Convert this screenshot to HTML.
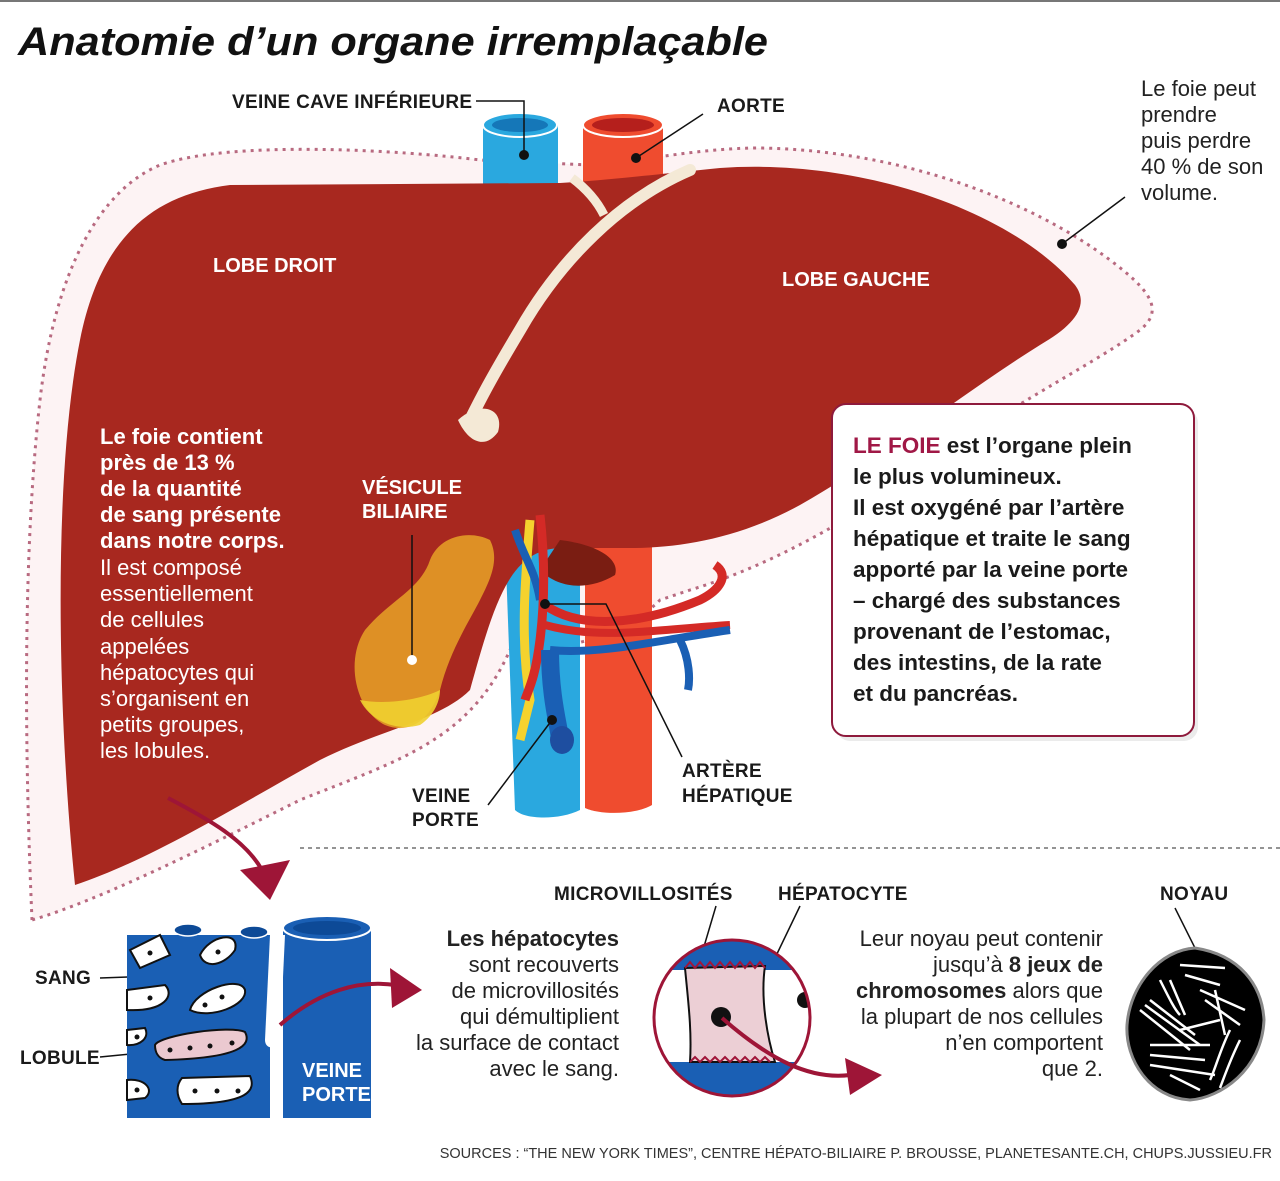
<!DOCTYPE html>
<html><head><meta charset="utf-8"><style>
html,body{margin:0;padding:0;background:#fff}
svg{display:block}
text{font-family:"Liberation Sans",sans-serif}
.lb{font-weight:bold;font-size:19px;fill:#1a1a1a;letter-spacing:0.3px}
.w{font-weight:bold;font-size:20px;fill:#fff}
.body{font-size:22px;fill:#222}
</style></head><body>
<svg width="1280" height="1181" viewBox="0 0 1280 1181" xmlns="http://www.w3.org/2000/svg">
<rect x="0" y="0" width="1280" height="2" fill="#777"/>
<text x="18" y="55" font-size="40" font-weight="bold" font-style="italic" fill="#111" textLength="750" lengthAdjust="spacingAndGlyphs">Anatomie d’un organe irremplaçable</text>

<!-- dotted halo -->
<path d="M32 920 C25 760 22 560 40 400 C55 270 100 190 160 165 C230 140 400 150 480 160 L590 165 C650 160 700 148 760 148 C900 150 1030 200 1110 260 C1150 290 1165 310 1140 330 C1100 360 1020 400 950 450 C880 500 790 560 690 590 L660 600 C620 640 560 650 510 650 C470 740 400 760 300 800 C200 850 100 900 32 920 Z" fill="#fdf3f4" stroke="#b86a80" stroke-width="3" stroke-dasharray="3 5"/>

<!-- top vessels -->
<rect x="483" y="125" width="75" height="65" fill="#2aa8df"/>
<ellipse cx="520" cy="125" rx="37" ry="12" fill="#2aa8df" stroke="#fff" stroke-width="2"/>
<ellipse cx="520" cy="125" rx="28" ry="7" fill="#1577b8"/>
<rect x="583" y="125" width="80" height="65" fill="#ef4c2f"/>
<ellipse cx="623" cy="125" rx="40" ry="12" fill="#ef4c2f" stroke="#fff" stroke-width="2"/>
<ellipse cx="623" cy="125" rx="31" ry="7" fill="#b51f1c"/>

<!-- lower vessels -->
<path d="M505 540 L580 540 L580 810 C560 820 525 820 515 810 Z" fill="#2aa8df"/>
<path d="M585 540 L652 540 L652 805 C635 815 600 815 585 808 Z" fill="#ef4c2f"/>

<!-- liver -->
<path d="M75 885 C58 720 52 480 80 340 C100 240 150 195 230 185 L560 183 C610 180 650 175 720 168 C860 158 1010 210 1075 285 C1090 305 1075 325 1040 345 C960 395 880 460 800 505 C740 538 680 548 630 548 L560 548 C510 550 495 600 470 690 C440 720 380 730 320 760 C230 810 150 860 75 885 Z" fill="#a8281f"/>
<path d="M560 540 C600 545 620 560 615 575 C590 590 560 590 540 570 Z" fill="#7a1d12"/>
<!-- fissure -->
<path d="M572 178 C588 190 598 203 604 215" stroke="#f4e9d6" stroke-width="9" fill="none"/>
<path d="M690 170 C620 200 560 260 520 330 C490 380 480 400 470 420" stroke="#f4e9d6" stroke-width="12" fill="none" stroke-linecap="round"/>
<path d="M458 420 C480 400 505 408 498 432 C485 450 468 442 458 420 Z" fill="#f4e9d6"/>

<!-- gallbladder -->
<path d="M490 540 C470 530 440 535 430 560 C420 590 390 600 365 630 C345 660 355 710 385 725 C410 735 430 720 440 690 C450 650 470 620 480 600 C490 580 500 560 490 540 Z" fill="#e8a227" opacity="0.85"/>
<path d="M360 700 C370 720 395 732 420 725 C435 715 440 700 440 690 C420 700 385 705 360 700 Z" fill="#f0d030" opacity="0.9"/>

<!-- ducts and arteries -->
<path d="M530 520 C525 580 520 640 530 700 L520 740" stroke="#f5d22e" stroke-width="9" fill="none"/>
<path d="M515 530 C525 560 535 570 540 600" stroke="#1a5fb4" stroke-width="8" fill="none"/>
<path d="M540 515 C545 560 545 600 540 640 C535 680 528 690 525 700" stroke="#d42a26" stroke-width="9" fill="none"/>
<path d="M545 605 C580 630 640 625 700 600 C720 590 730 575 715 565" stroke="#d42a26" stroke-width="9" fill="none"/>
<path d="M545 625 C600 640 650 630 730 625" stroke="#d42a26" stroke-width="8" fill="none"/>
<path d="M550 650 C600 655 660 640 730 630 M680 640 C690 660 690 680 688 690" stroke="#1a5fb4" stroke-width="8" fill="none"/>
<path d="M550 650 C550 700 560 730 560 740" stroke="#1a5fb4" stroke-width="18" fill="none"/>
<ellipse cx="562" cy="740" rx="12" ry="14" fill="#1e4ea0"/>

<!-- pointer lines -->
<g stroke="#111" stroke-width="1.5" fill="none">
<path d="M476 101 L524 101 L524 155"/>
<path d="M703 114 L636 158"/>
<path d="M1125 197 L1062 244"/>
<path d="M412 535 L412 660"/>
<path d="M545 604 L606 604 L682 757"/>
<path d="M552 720 L488 805"/>
<path d="M100 978 L180 975"/>
<path d="M100 1057 L170 1050"/>
<path d="M716 906 L700 960"/>
<path d="M800 906 L750 1010"/>
<path d="M1175 908 L1195 948"/>
</g>
<g fill="#111"><circle cx="524" cy="155" r="5"/><circle cx="636" cy="158" r="5"/><circle cx="1062" cy="244" r="5"/><circle cx="545" cy="604" r="5"/><circle cx="552" cy="720" r="5"/></g>
<circle cx="412" cy="660" r="5" fill="#fff"/>

<text class="lb" x="232" y="108">VEINE CAVE INFÉRIEURE</text>
<text class="lb" x="717" y="112">AORTE</text>
<text x="1141" y="96" class="body">Le foie peut</text>
<text x="1141" y="122" class="body">prendre</text>
<text x="1141" y="148" class="body">puis perdre</text>
<text x="1141" y="174" class="body">40 % de son</text>
<text x="1141" y="200" class="body">volume.</text>
<text class="w" x="213" y="272">LOBE DROIT</text>
<text class="w" x="782" y="286">LOBE GAUCHE</text>
<text class="w" x="362" y="494" font-size="18">VÉSICULE</text>
<text class="w" x="362" y="518" font-size="18">BILIAIRE</text>
<g font-size="22" fill="#fff">
<text x="100" y="444" font-weight="bold">Le foie contient</text>
<text x="100" y="470" font-weight="bold">près de 13 %</text>
<text x="100" y="496" font-weight="bold">de la quantité</text>
<text x="100" y="522" font-weight="bold">de sang présente</text>
<text x="100" y="548" font-weight="bold">dans notre corps.</text>
<text x="100" y="575">Il est composé</text>
<text x="100" y="601">essentiellement</text>
<text x="100" y="627">de cellules</text>
<text x="100" y="654">appelées</text>
<text x="100" y="680">hépatocytes qui</text>
<text x="100" y="706">s’organisent en</text>
<text x="100" y="732">petits groupes,</text>
<text x="100" y="758">les lobules.</text>
</g>
<text class="lb" x="412" y="802">VEINE</text>
<text class="lb" x="412" y="826">PORTE</text>
<text class="lb" x="682" y="777">ARTÈRE</text>
<text class="lb" x="682" y="802">HÉPATIQUE</text>

<!-- info box -->
<rect x="836" y="409" width="362" height="332" rx="14" fill="#ddd" opacity="0.6"/>
<rect x="832" y="404" width="362" height="332" rx="14" fill="#fff" stroke="#8e1a3c" stroke-width="2"/>
<g font-size="22.5" font-weight="bold" fill="#1a1a1a">
<text x="853" y="453"><tspan fill="#a01846">LE FOIE</tspan> est l’organe plein</text>
<text x="853" y="484">le plus volumineux.</text>
<text x="853" y="515">Il est oxygéné par l’artère</text>
<text x="853" y="546">hépatique et traite le sang</text>
<text x="853" y="577">apporté par la veine porte</text>
<text x="853" y="608">– chargé des substances</text>
<text x="853" y="639">provenant de l’estomac,</text>
<text x="853" y="670">des intestins, de la rate</text>
<text x="853" y="701">et du pancréas.</text>
</g>

<line x1="300" y1="848" x2="1280" y2="848" stroke="#555" stroke-width="1.2" stroke-dasharray="4 4"/>

<!-- arrow 1 -->
<path d="M168 798 C210 820 245 840 262 870" stroke="#9e1537" stroke-width="4" fill="none"/>
<path d="M240 870 L290 860 L270 900 Z" fill="#9e1537"/>

<!-- lobule block -->
<path d="M127 935 L270 935 L270 1118 L127 1118 Z" fill="#1a5fb4"/>
<rect x="283" y="928" width="88" height="190" fill="#1a5fb4"/>
<ellipse cx="327" cy="928" rx="44" ry="12" fill="#1a5fb4" stroke="#fff" stroke-width="2"/>
<ellipse cx="327" cy="928" rx="34" ry="7" fill="#0d4a97"/>
<path d="M270 935 L285 935 L280 1040 C278 1050 265 1050 265 1040 Z" fill="#fff"/>
<path d="M270 1060 L282 1060 L282 1118 L270 1118 Z" fill="#fff"/>
<ellipse cx="188" cy="930" rx="14" ry="6" fill="#0d4a97" stroke="#fff" stroke-width="1.5"/>
<ellipse cx="254" cy="932" rx="14" ry="6" fill="#0d4a97" stroke="#fff" stroke-width="1.5"/>
<g stroke="#111" stroke-width="2" fill="#fff">
<path d="M130 950 L160 935 L170 955 L140 968 Z"/>
<path d="M200 955 C210 935 240 930 235 950 C225 965 205 970 200 955 Z"/>
<path d="M127 990 L165 985 C175 995 165 1012 127 1010 Z"/>
<path d="M190 1010 C195 990 240 975 245 990 C248 1005 210 1020 190 1010 Z"/>
<path d="M127 1030 L145 1028 C150 1038 140 1046 127 1045 Z"/>
<path d="M155 1045 C160 1035 230 1025 245 1032 C252 1045 240 1058 165 1060 C158 1058 155 1052 155 1045 Z" fill="#ebc9d0"/>
<path d="M127 1080 C145 1078 155 1090 145 1098 L127 1100 Z"/>
<path d="M182 1078 L250 1076 C256 1090 250 1104 182 1104 C176 1095 176 1085 182 1078 Z"/>
</g>
<g fill="#111"><circle cx="150" cy="953" r="2.5"/><circle cx="218" cy="952" r="2.5"/><circle cx="150" cy="998" r="2.5"/><circle cx="205" cy="1005" r="2.5"/><circle cx="222" cy="997" r="2.5"/><circle cx="137" cy="1037" r="2.5"/><circle cx="170" cy="1050" r="2.5"/><circle cx="190" cy="1048" r="2.5"/><circle cx="210" cy="1046" r="2.5"/><circle cx="232" cy="1043" r="2.5"/><circle cx="137" cy="1090" r="2.5"/><circle cx="195" cy="1091" r="2.5"/><circle cx="217" cy="1091" r="2.5"/><circle cx="238" cy="1091" r="2.5"/></g>
<text class="w" x="302" y="1077">VEINE</text>
<text class="w" x="302" y="1101">PORTE</text>
<text class="lb" x="35" y="984">SANG</text>
<text class="lb" x="20" y="1064">LOBULE</text>
<path d="M280 1025 C320 990 360 980 395 985" stroke="#9e1537" stroke-width="4" fill="none"/>
<path d="M390 968 L422 990 L392 1008 Z" fill="#9e1537"/>

<g font-size="22" fill="#222" text-anchor="end">
<text x="619" y="946" font-weight="bold">Les hépatocytes</text>
<text x="619" y="972">sont recouverts</text>
<text x="619" y="998">de microvillosités</text>
<text x="619" y="1024">qui démultiplient</text>
<text x="619" y="1050">la surface de contact</text>
<text x="619" y="1076">avec le sang.</text>
</g>

<text class="lb" x="554" y="900">MICROVILLOSITÉS</text>
<text class="lb" x="778" y="900">HÉPATOCYTE</text>
<text class="lb" x="1160" y="900">NOYAU</text>

<!-- hepatocyte circle -->
<defs><clipPath id="cc"><circle cx="732" cy="1018" r="78"/></clipPath></defs>
<g clip-path="url(#cc)">
<rect x="650" y="935" width="170" height="170" fill="#fff"/>
<rect x="650" y="935" width="170" height="35" fill="#1a5fb4"/>
<rect x="650" y="1062" width="170" height="45" fill="#1a5fb4"/>
<path d="M685 968 L765 966 C760 1000 768 1040 775 1062 L690 1062 C692 1030 688 1000 685 968 Z" fill="#eccfd5" stroke="#111" stroke-width="2"/>
<path d="M685 968 l5 -6 l5 6 l5 -6 l5 6 l5 -6 l5 6 l5 -6 l5 6 l5 -6 l5 6 l5 -6 l5 6 l5 -6 l5 6 l5 -6 l5 6" stroke="#a0163a" stroke-width="2" fill="none"/>
<path d="M690 1062 l5 -5 l5 5 l5 -5 l5 5 l5 -5 l5 5 l5 -5 l5 5 l5 -5 l5 5 l5 -5 l5 5 l5 -5 l5 5 l5 -5 l5 5" stroke="#a0163a" stroke-width="2" fill="none"/>
<circle cx="805" cy="1000" r="8" fill="#111"/>
</g>
<circle cx="732" cy="1018" r="78" fill="none" stroke="#9e1537" stroke-width="3"/>
<circle cx="721" cy="1017" r="10" fill="#111"/>
<path d="M722 1018 C770 1060 810 1080 850 1075" stroke="#9e1537" stroke-width="4" fill="none"/>
<path d="M845 1058 L882 1075 L850 1095 Z" fill="#9e1537"/>

<g font-size="22" fill="#222" text-anchor="end">
<text x="1103" y="946">Leur noyau peut contenir</text>
<text x="1103" y="972">jusqu’à <tspan font-weight="bold">8 jeux de</tspan></text>
<text x="1103" y="998"><tspan font-weight="bold">chromosomes</tspan> alors que</text>
<text x="1103" y="1024">la plupart de nos cellules</text>
<text x="1103" y="1050">n’en comportent</text>
<text x="1103" y="1076">que 2.</text>
</g>

<!-- nucleus -->
<path d="M1195 948 C1240 955 1262 985 1264 1020 C1262 1070 1220 1098 1190 1100 C1150 1098 1125 1060 1127 1025 C1130 985 1160 950 1195 948 Z" fill="#000" stroke="#888" stroke-width="3"/>
<g stroke="#fff" stroke-width="2.5" fill="none">
<path d="M1180 965 L1225 968 M1185 975 L1220 985 M1160 980 C1170 1000 1175 1010 1180 1015 M1170 980 L1185 1015"/>
<path d="M1140 1010 L1190 1050 M1145 1005 L1200 1045 M1150 1000 L1195 1035"/>
<path d="M1150 1045 L1210 1045 M1150 1055 L1205 1060 M1150 1065 L1215 1075"/>
<path d="M1200 990 L1245 1010 M1205 1000 L1240 1025 M1215 990 L1225 1035"/>
<path d="M1230 1030 C1220 1050 1215 1070 1210 1080 M1240 1040 C1230 1060 1225 1075 1220 1088"/>
<path d="M1170 1075 L1200 1090 M1180 1030 L1220 1020"/>
</g>

<text x="1272" y="1158" font-size="14.5" fill="#333" text-anchor="end">SOURCES : “THE NEW YORK TIMES”, CENTRE HÉPATO-BILIAIRE P. BROUSSE, PLANETESANTE.CH, CHUPS.JUSSIEU.FR</text>
</svg>
</body></html>
